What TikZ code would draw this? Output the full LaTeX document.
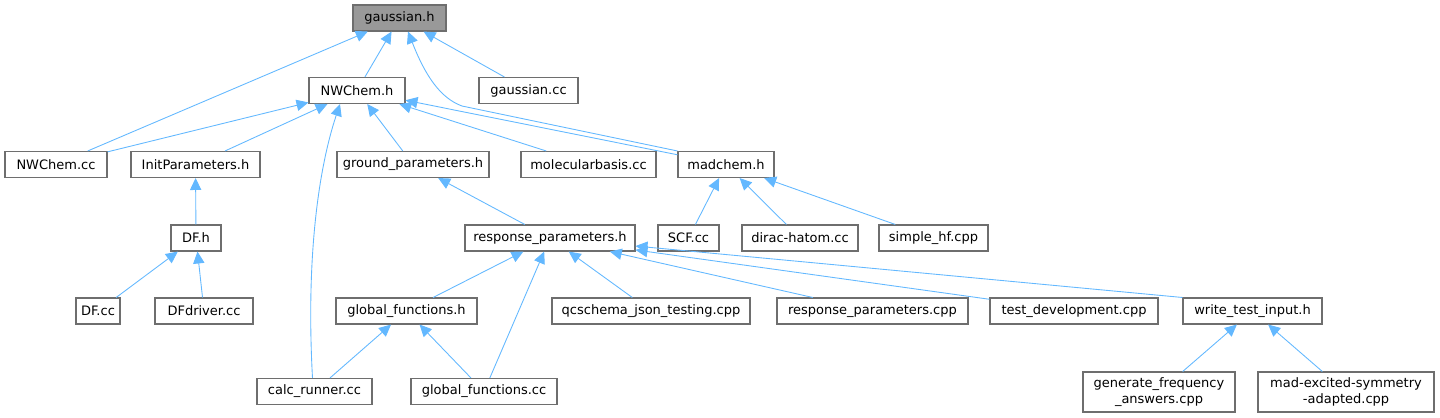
\documentclass[tikz,border=0pt]{standalone}
\usepackage{fontspec}
\setmainfont{DejaVu Sans}
\usepackage{tikz}
\usetikzlibrary{arrows.meta,calc}
\definecolor{edgeblue}{RGB}{99,184,255}
\definecolor{boxline}{RGB}{110,110,110}
\definecolor{topfill}{RGB}{153,153,153}
\tikzset{
  srcbox/.style={draw=boxline, fill=white, line width=0.6pt, rectangle,
                 minimum height=26*0.02cm, inner sep=1pt, align=center,
                 font=\fontsize{7.4}{9}\selectfont},
  topbox/.style={srcbox, fill=topfill},
  bw/.style={minimum width=#1*0.02cm},
  incarr/.style={{Triangle[length=6.8pt, width=6.4pt]}-, edgeblue, line width=0.5pt},
}
\begin{document}
\begin{tikzpicture}[x=0.02cm, y=-0.02cm]
 \useasboundingbox (0,0) rectangle (1440,417);
 % row 1 and 2
 \node[topbox, bw=93]  (gh)  at (399.5,18)  {gaussian.h};
 \node[srcbox, bw=96]  (nwh) at (357,90.5)  {NWChem.h};
 \node[srcbox, bw=99]  (gcc) at (528.5,90.5) {gaussian.cc};
 % row 3
 \node[srcbox, bw=102] (nwc) at (56,164.5)   {NWChem.cc};
 \node[srcbox, bw=129] (ip)  at (195.5,164.5) {InitParameters.h};
 \node[srcbox, bw=152] (gp)  at (413,164.5)  {ground\_parameters.h};
 \node[srcbox, bw=135] (mb)  at (588.5,164.5) {molecularbasis.cc};
 \node[srcbox, bw=96]  (mc)  at (726,164.5)  {madchem.h};
 % row 4
 \node[srcbox, bw=50]  (dfh) at (196,238)    {DF.h};
 \node[srcbox, bw=170] (rp)  at (550,238)    {response\_parameters.h};
 \node[srcbox, bw=61]  (scf) at (688.5,238)  {SCF.cc};
 \node[srcbox, bw=116] (dh)  at (800,238)    {dirac-hatom.cc};
 \node[srcbox, bw=109] (shf) at (933.5,238)  {simple\_hf.cpp};
 % row 5
 \node[srcbox, bw=44]  (dfc) at (98,311)     {DF.cc};
 \node[srcbox, bw=98]  (dfd) at (204,311)    {DFdriver.cc};
 \node[srcbox, bw=141] (gfh) at (406.5,311)  {global\_functions.h};
 \node[srcbox, bw=198] (qcs) at (651,311)    {qcschema\_json\_testing.cpp};
 \node[srcbox, bw=191] (rpc) at (872.5,311)  {response\_parameters.cpp};
 \node[srcbox, bw=168] (tdv) at (1074,311)   {test\_development.cpp};
 \node[srcbox, bw=139] (wti) at (1252.5,311) {write\_test\_input.h};
 % row 6
 \node[srcbox, bw=115] (cr)  at (314.5,391.5) {calc\_runner.cc};
 \node[srcbox, bw=146] (gfc) at (484,391.5)  {global\_functions.cc};
 \node[srcbox, bw=152, minimum height=40*0.02cm] (gfa) at (1159,392) {generate\_frequency\\\_answers.cpp};
 \node[srcbox, bw=176, minimum height=40*0.02cm] (mes) at (1346,392) {mad-excited-symmetry\\-adapted.cpp};

 \draw[incarr] (gh) -- (nwc);
 \draw[incarr] (gh) -- (nwh);
 \draw[incarr] (gh) -- (gcc);
 \draw[incarr] ($(gh.south)+(8.5,0)$) .. controls (425,75) and (440,98) .. (462,106) -- (mc.north west);
 \draw[incarr] (nwh) -- (nwc);
 \draw[incarr] (nwh) -- (ip);
 \draw[incarr] (nwh) -- (gp);
 \draw[incarr] (nwh) -- (mb);
 \draw[incarr] (nwh) -- (mc);
 \draw[incarr] ($(nwh.south)+(-17,0)$) .. controls (318,170) and (306,260) .. ($(cr.north)+(-2,0)$);
 \draw[incarr] (ip) -- (dfh);
 \draw[incarr] (dfh) -- (dfc);
 \draw[incarr] (dfh) -- (dfd);
 \draw[incarr] (gp) -- (rp);
 \draw[incarr] (mc) -- (scf);
 \draw[incarr] (mc) -- (dh);
 \draw[incarr] (mc) -- (shf);
 \draw[incarr] (rp) -- (gfh);
 \draw[incarr] (rp) -- (gfc);
 \draw[incarr] (rp) -- (qcs);
 \draw[incarr] (rp) -- (rpc);
 \draw[incarr] (rp) -- (tdv);
 \draw[incarr] (rp) -- (wti.north west);
 \draw[incarr] (gfh) -- (cr);
 \draw[incarr] (gfh) -- (gfc);
 \draw[incarr] (wti) -- (gfa);
 \draw[incarr] (wti) -- (mes);
\end{tikzpicture}
\end{document}
